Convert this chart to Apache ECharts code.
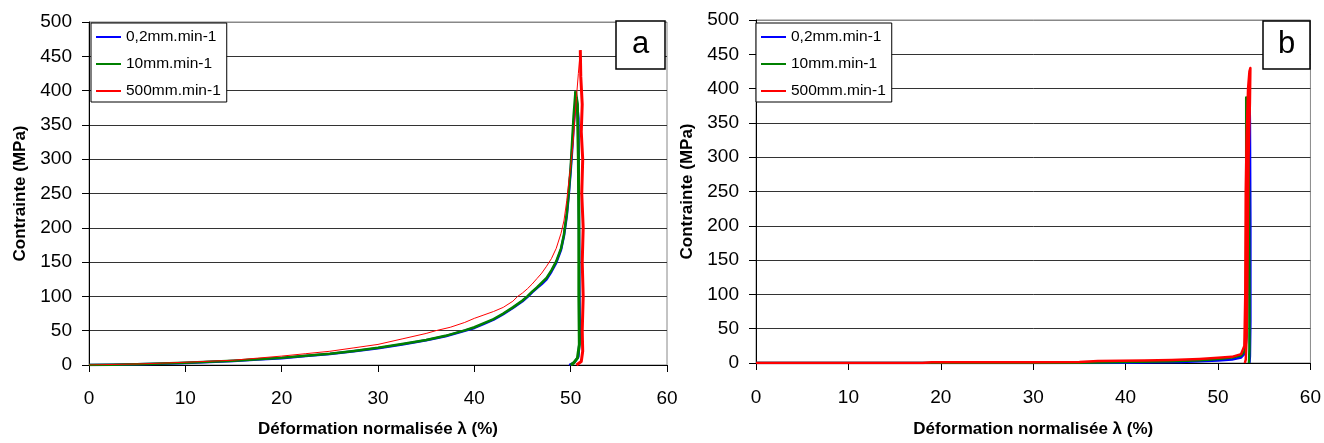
<!DOCTYPE html>
<html><head><meta charset="utf-8">
<script src="https://cdn.jsdelivr.net/npm/echarts@6/dist/echarts.min.js"></script>
<style>html,body{margin:0;padding:0;background:#fff}#c{width:1324px;height:443px}</style>
</head><body><div id="c"></div>
<script>
// ---- data ----
const seriesNames = ['0,2mm.min-1', '10mm.min-1', '500mm.min-1'];
const xTicks = [0, 10, 20, 30, 40, 50, 60];
const yTicks = [0, 50, 100, 150, 200, 250, 300, 350, 400, 450, 500];

// chart a : loading part and near-vertical part
const blueA_load = [[0,0],[2.5,0.5],[5,1],[7.5,2],[10,3],[12.5,4.5],[15,6],[17.5,8],[20,10],[22.5,13],[25,16],[27.5,20],[30,24.5],[32.5,30],[35,36],[37,42],[39,50],[40,54],[41,60],[42,66],[43,74],[44,83],[45,93],[45.5,99],[46,106],[46.5,112],[47,118],[47.5,125],[48,136],[48.5,149],[49,168],[49.3,188],[49.6,218],[49.8,248],[50.0,283],[50.2,323],[50.35,358],[50.6,390]];
const blueA_drop = [[50.6,390],[50.8,360],[50.85,250],[50.9,120],[50.95,40],[50.8,12],[50.4,4],[49.85,0]];
const greenA_load = [[0,0],[2.5,0.5],[5,1.2],[7.5,2.2],[10,3.2],[12.5,4.7],[15,6.3],[17.5,8.3],[20,10.5],[22.5,13.5],[25,16.5],[27.5,20.5],[30,25],[32.5,30.5],[35,36.5],[37,42.5],[39,50.5],[40,55],[41,61],[42,67],[43,75],[44,84],[45,94],[45.5,100],[46,107],[46.5,113],[47,120],[47.5,127],[48,138],[48.5,151],[49,170],[49.3,190],[49.6,221],[49.8,252],[50.0,288],[50.15,325],[50.3,362],[50.5,399]];
const greenA_drop = [[50.5,399],[50.7,380],[50.8,300],[50.85,200],[50.85,100],[50.9,30],[50.7,10],[50.3,3],[50.0,0]];
const redA_load = [[0,0],[2.5,0.8],[5,1.5],[7.5,2.7],[10,4],[12.5,5.5],[15,7],[17.5,10],[20,13],[22.5,16.5],[25,20],[27.5,25],[30,30],[32.5,38],[35,46],[36,50],[37.5,55],[39,62],[40,68],[41,73],[42,78],[43,84],[44,93],[44.5,100],[45,105],[45.5,111],[46,118],[46.5,126],[47,134],[47.5,144],[48,155],[48.5,170],[49,192],[49.3,210],[49.6,240],[49.8,267],[50.0,290],[50.2,315],[50.4,350],[50.6,390],[50.8,425],[51.0,459]];
const redA_drop = [[51.0,459],[51.05,420],[51.2,380],[51.1,340],[51.25,300],[51.15,250],[51.3,200],[51.2,150],[51.3,100],[51.2,50],[51.25,20],[51.1,5],[50.6,0]];

// chart b
const blueB = [[0,0],[20,0],[35,0],[40,0.5],[43,1],[46,1.5],[48,2.5],[50,3.5],[51.5,5],[52.5,8],[52.9,14],[53.1,40],[53.2,150],[53.3,300],[53.4,395],[53.45,350],[53.5,200],[53.5,60],[53.45,10],[53.4,0]];
const greenB = [[0,0],[30,0],[35,0.5],[40,1.5],[45,2.5],[48,4],[50,6],[51.5,8],[52.5,11],[52.9,18],[53.0,60],[53.05,200],[53.05,387],[53.2,370],[53.35,250],[53.4,100],[53.4,20],[53.35,0]];
const redB = [[0,0],[18,0],[19,1],[30,1],[35,1.5],[37,3],[42,3.5],[45,4.5],[48,6],[50,7.5],[51.5,9],[52.5,13],[52.85,25],[52.95,100],[53.0,250],[53.1,330],[53.25,400],[53.4,425],[53.5,430],[53.45,380],[53.3,300],[53.2,150],[53.1,40],[53.0,5],[52.9,0]];

const colors = ['#0000FF', '#008000', '#FF0000'];
const FONT = "'Liberation Sans', Arial, sans-serif";

function xAx(gi, gap, lm) {
  return {
    gridIndex: gi, type: 'value', min: xTicks[0], max: xTicks[xTicks.length-1], interval: 10,
    name: 'Déformation normalisée λ (%)', nameLocation: 'middle', nameGap: gap,
    nameTextStyle: {fontFamily: FONT, fontWeight: 'bold', fontSize: 17, color: '#000'},
    axisLine: {show: true, onZero: false, lineStyle: {color: '#000', width: 1}},
    axisTick: {show: true, length: 7, lineStyle: {color: '#000'}},
    axisLabel: {fontFamily: FONT, fontSize: 19, color: '#000', margin: lm},
    splitLine: {show: false}
  };
}
function yAx(gi, gap) {
  const sc = yTicks.map((v, i) => i === yTicks.length - 1 ? '#888' : '#333');
  return {
    gridIndex: gi, type: 'value', min: yTicks[0], max: yTicks[yTicks.length-1], interval: 50,
    name: 'Contrainte (MPa)', nameLocation: 'middle', nameGap: gap, nameRotate: 90,
    nameTextStyle: {fontFamily: FONT, fontWeight: 'bold', fontSize: 17, color: '#000'},
    axisLine: {show: true, onZero: false, lineStyle: {color: '#000', width: 1}},
    axisTick: {show: true, length: 7, lineStyle: {color: '#000'}},
    axisLabel: {fontFamily: FONT, fontSize: 19, color: '#000', margin: 17},
    splitLine: {show: true, lineStyle: {color: sc, width: 1}}
  };
}
function ln(name, data, gi, color, w) {
  return {name, type: 'line', data, xAxisIndex: gi, yAxisIndex: gi, showSymbol: false, symbol: 'none',
    lineStyle: {color, width: w, join: 'round'}, itemStyle: {color}, animation: false, silent: true};
}
function legend(left, top) {
  return {
    left, top, orient: 'vertical', data: seriesNames,
    backgroundColor: '#fff', borderColor: '#000', borderWidth: 1,
    padding: [6, 6, 3, 5], itemGap: 11, itemWidth: 25, itemHeight: 2, icon: 'rect',
    textStyle: {fontFamily: FONT, fontSize: 15.5, color: '#000'},
    selectedMode: false
  };
}

const option = {
  animation: false,
  backgroundColor: '#fff',
  grid: [
    {left: 89, top: 22, width: 578, height: 346, show: true, borderColor: '#888', borderWidth: 1, backgroundColor: 'transparent'},
    {left: 756, top: 20, width: 555, height: 351, show: true, borderColor: '#888', borderWidth: 1, backgroundColor: 'transparent'}
  ],
  title: [
    {text: 'a', left: 616, top: 21, padding: [8, 16, 9, 16], borderColor: '#000', borderWidth: 1.5, backgroundColor: '#fff',
      textStyle: {fontFamily: FONT, fontSize: 31, fontWeight: 'normal', color: '#000'}},
    {text: 'b', left: 1263, top: 21, padding: [8, 15, 9, 15], borderColor: '#000', borderWidth: 1.5, backgroundColor: '#fff',
      textStyle: {fontFamily: FONT, fontSize: 31, fontWeight: 'normal', color: '#000'}}
  ],
  legend: [legend(91, 23), legend(756, 23)],
  xAxis: [xAx(0, 56, 24), xAx(1, 58, 25)],
  yAxis: [yAx(0, 60), yAx(1, 60)],
  series: [
    ln(seriesNames[0], blueA_load, 0, colors[0], 2.5),
    ln(seriesNames[0], blueA_drop, 0, colors[0], 2.5),
    ln(seriesNames[1], greenA_load, 0, colors[1], 2.5),
    ln(seriesNames[1], greenA_drop, 0, colors[1], 3),
    ln(seriesNames[2], redA_load, 0, colors[2], 1),
    ln(seriesNames[2], redA_drop, 0, colors[2], 3),
    ln(seriesNames[0], blueB, 1, colors[0], 2.5),
    ln(seriesNames[1], greenB, 1, colors[1], 2.5),
    ln(seriesNames[2], redB, 1, colors[2], 2.5)
  ]
};
const chart = echarts.init(document.getElementById('c'), null, {renderer: 'canvas'});
chart.setOption(option);
</script></body></html>
